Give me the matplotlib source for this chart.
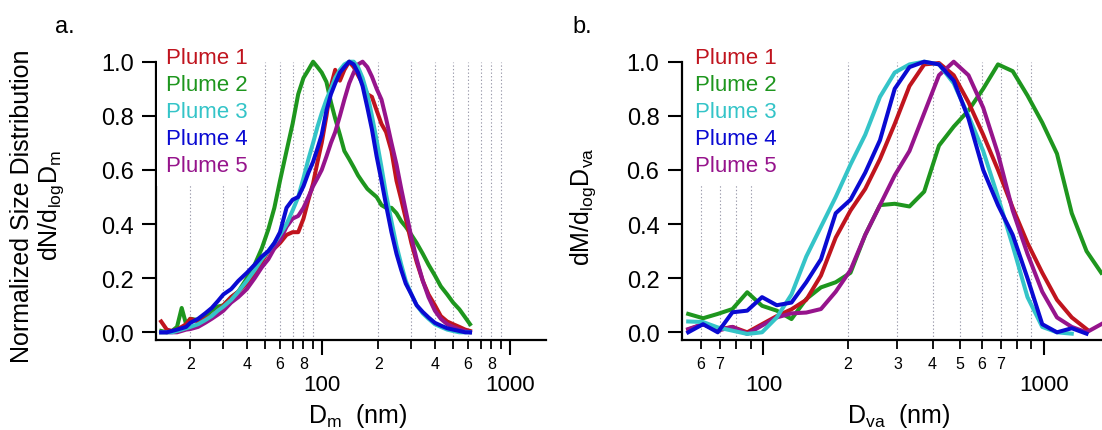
import numpy as np
import matplotlib
matplotlib.use("Agg")
import matplotlib.pyplot as plt
from matplotlib.ticker import FixedLocator, FuncFormatter

plt.rcParams['font.family'] = ['Liberation Sans', 'DejaVu Sans']
plt.rcParams['mathtext.default'] = 'regular'

# ---------------- data ----------------
labels = ["Plume 1", "Plume 2", "Plume 3", "Plume 4", "Plume 5"]
colors = ["#C0141E", "#1E961E", "#34C4C8", "#0A0AD2", "#96148C"]

# panel a: mobility diameter (nm)
dm = [14, 15, 16, 17, 18, 19, 20, 22, 24, 26, 28, 30, 33, 36, 40, 44, 48, 52, 56, 60,
      65, 70, 75, 80, 85, 90, 95, 100, 106, 112, 118, 125, 132, 140, 148, 156, 165, 175,
      185, 196, 208, 220, 235, 250, 265, 280, 300, 320, 345, 370, 400, 430, 465, 500,
      540, 580, 615]
a_p1 = [0.04, 0.01, 0.005, 0.01, 0.02, 0.03, 0.05, 0.04, 0.05, 0.06, 0.08, 0.10, 0.13, 0.15,
        0.18, 0.22, 0.26, 0.30, 0.31, 0.33, 0.36, 0.37, 0.37, 0.42, 0.49, 0.55, 0.63, 0.70,
        0.80, 0.91, 0.97, 0.93, 0.97, 1.00, 0.98, 0.95, 0.92, 0.88, 0.87, 0.82, 0.77, 0.74,
        0.67, 0.56, 0.49, 0.42, 0.33, 0.26, 0.19, 0.14, 0.10, 0.06, 0.04, 0.03, 0.02, 0.01,
        0.005]
a_p2 = [0.005, 0.0, 0.005, 0.02, 0.09, 0.03, 0.05, 0.045, 0.06, 0.08, 0.095, 0.10, 0.13,
        0.15, 0.20, 0.25, 0.31, 0.38, 0.46, 0.56, 0.67, 0.77, 0.88, 0.94, 0.97, 1.00, 0.98,
        0.96, 0.925, 0.85, 0.79, 0.73, 0.67, 0.64, 0.61, 0.58, 0.555, 0.53, 0.515, 0.50,
        0.47, 0.46, 0.46, 0.44, 0.41, 0.39, 0.36, 0.33, 0.29, 0.25, 0.21, 0.17, 0.14, 0.11,
        0.085, 0.055, 0.03]
a_p3 = [0.0, 0.0, 0.0, 0.005, 0.01, 0.015, 0.02, 0.03, 0.045, 0.06, 0.08, 0.095, 0.12, 0.15,
        0.19, 0.23, 0.27, 0.30, 0.33, 0.36, 0.40, 0.45, 0.50, 0.57, 0.64, 0.70, 0.76, 0.81,
        0.86, 0.90, 0.94, 0.97, 0.99, 1.00, 1.00, 0.98, 0.94, 0.88, 0.80, 0.71, 0.61, 0.51,
        0.41, 0.32, 0.25, 0.19, 0.14, 0.10, 0.07, 0.05, 0.03, 0.02, 0.01, 0.005, 0.0, 0.0,
        0.0]
a_p4 = [0.0, 0.0, 0.005, 0.01, 0.015, 0.02, 0.035, 0.05, 0.07, 0.09, 0.115, 0.14, 0.16,
        0.19, 0.22, 0.25, 0.28, 0.30, 0.33, 0.37, 0.46, 0.49, 0.50, 0.54, 0.59, 0.63, 0.68,
        0.73, 0.82, 0.88, 0.92, 0.96, 0.98, 1.00, 0.99, 0.96, 0.91, 0.83, 0.75, 0.65, 0.56,
        0.47, 0.37, 0.29, 0.23, 0.18, 0.14, 0.10, 0.075, 0.055, 0.035, 0.025, 0.015, 0.01,
        0.005, 0.0, 0.0]
a_p5 = [0.0, 0.0, 0.0, 0.0, 0.005, 0.01, 0.012, 0.02, 0.035, 0.05, 0.065, 0.08, 0.11, 0.13,
        0.16, 0.20, 0.24, 0.27, 0.31, 0.34, 0.39, 0.42, 0.43, 0.46, 0.50, 0.54, 0.57, 0.60,
        0.65, 0.70, 0.74, 0.80, 0.86, 0.92, 0.96, 0.99, 1.00, 0.98, 0.945, 0.90, 0.86, 0.79,
        0.70, 0.62, 0.53, 0.45, 0.35, 0.27, 0.19, 0.13, 0.08, 0.05, 0.03, 0.02, 0.01, 0.005,
        0.0]

# panel b: vacuum aerodynamic diameter (nm)
dva = [54.0, 61.0, 68.8, 77.6, 87.6, 98.9, 111.6, 125.9, 142.1, 160.3, 180.9, 204.2, 230.4,
       260.0, 293.4, 331.1, 373.6, 421.7, 475.8, 537.0, 605.9, 683.9, 771.6, 871.0, 982.9,
       1109, 1252, 1413, 1594]
nan = np.nan
b_p1 = [0.01, 0.03, 0.01, 0.02, 0.0, 0.03, 0.06, 0.085, 0.12, 0.21, 0.35, 0.45, 0.53, 0.64,
        0.77, 0.91, 0.99, 0.995, 0.95, 0.85, 0.73, 0.60, 0.46, 0.33, 0.22, 0.12, 0.055, 0.012,
        nan]
b_p2 = [0.068, 0.052, 0.068, 0.086, 0.148, 0.098, 0.08, 0.049, 0.123, 0.166, 0.185, 0.22,
        0.36, 0.47, 0.475, 0.465, 0.52, 0.69, 0.76, 0.82, 0.90, 0.99, 0.965, 0.875, 0.775,
        0.66, 0.44, 0.30, 0.22]
b_p3 = [0.04, 0.038, 0.018, 0.006, -0.006, 0.0, 0.055, 0.14, 0.28, 0.39, 0.50, 0.62, 0.73,
        0.87, 0.96, 0.99, 1.0, 0.99, 0.92, 0.80, 0.67, 0.50, 0.32, 0.13, 0.02, 0.0, -0.005,
        nan, nan]
b_p4 = [0.0, 0.03, 0.0, 0.074, 0.08, 0.13, 0.10, 0.11, 0.185, 0.27, 0.44, 0.49, 0.59, 0.71,
        0.90, 0.98, 1.0, 0.99, 0.93, 0.79, 0.60, 0.47, 0.36, 0.20, 0.03, 0.0, 0.015, -0.005,
        nan]
b_p5 = [0.012, 0.03, 0.006, 0.02, -0.006, 0.025, 0.055, 0.07, 0.073, 0.086, 0.15, 0.23, 0.36,
        0.47, 0.58, 0.67, 0.81, 0.95, 1.0, 0.95, 0.83, 0.66, 0.45, 0.29, 0.15, 0.055, 0.02,
        0.0, 0.03]

yticks = [0.0, 0.2, 0.4, 0.6, 0.8, 1.0]

# ---------------- figure ----------------
W, H = 1102, 431
fig = plt.figure(figsize=(W / 100, H / 100), dpi=100)


def px(x0, y0, x1, y1):
    return [x0 / W, 1 - y1 / H, (x1 - x0) / W, (y1 - y0) / H]


ax_a = fig.add_axes(px(156, 62.7, 546, 340.7))
ax_b = fig.add_axes(px(681.7, 62.7, 1102, 340.7))


def style(ax, xlim, minor, minor_lab):
    ax.set_xscale('log')
    ax.set_xlim(*xlim)
    ax.set_ylim(-0.0273, 1.0)
    for s in ['top', 'right']:
        ax.spines[s].set_visible(False)
    for s in ['left', 'bottom']:
        ax.spines[s].set_linewidth(1.6)
    ax.set_yticks(yticks)
    ax.yaxis.set_major_formatter(FuncFormatter(lambda v, p: f"{v:.1f}"))
    ax.xaxis.set_major_locator(FixedLocator([100, 1000]))
    ax.xaxis.set_major_formatter(FuncFormatter(lambda v, p: f"{int(round(v))}"))
    ax.xaxis.set_minor_locator(FixedLocator(minor))
    ax.xaxis.set_minor_formatter(FuncFormatter(
        lambda v, p: (str(int(round(v / 10 ** np.floor(np.log10(v) + 1e-9))))
                      if any(abs(v - m) < 1e-6 for m in minor_lab) else "")))
    ax.tick_params(axis='y', direction='out', length=10, width=1.5, labelsize=17, pad=6)
    ax.tick_params(axis='x', which='major', direction='out', length=11, width=1.5,
                   labelsize=16, pad=13.5)
    ax.tick_params(axis='x', which='minor', direction='out', length=6.5, width=1.3,
                   labelsize=11.5, pad=5)
    ax.grid(True, which='minor', axis='x', linestyle=(0, (1.2, 2.0)), color='#9a9aaa',
            linewidth=0.8)
    ax.grid(False, which='major')
    ax.set_axisbelow(True)


minor_all = [20, 30, 40, 50, 60, 70, 80, 90, 200, 300, 400, 500, 600, 700, 800, 900]
style(ax_a, (13.14, 1560), minor_all, [20, 40, 60, 80, 200, 400, 600, 800])
style(ax_b, (51.2, 1604), [60, 70, 80, 90, 200, 300, 400, 500, 600, 700, 800, 900],
      [60, 70, 200, 300, 400, 500, 600, 700])

a_series = [a_p1, a_p2, a_p3, a_p4, a_p5]
b_series = [b_p1, b_p2, b_p3, b_p4, b_p5]
order = [1, 0, 4, 2, 3]
lines_a, lines_b = {}, {}
for i in order:
    lines_a[i], = ax_a.plot(dm, a_series[i], color=colors[i], lw=2.9, clip_on=False,
                            solid_joinstyle='round', zorder=3)
    lines_b[i], = ax_b.plot(dva, b_series[i], color=colors[i], lw=2.9, clip_on=False,
                            solid_joinstyle='round', zorder=3)


def legend(ax, x_left_px):
    handles = [(lines_a if ax is ax_a else lines_b)[i] for i in range(5)]
    leg = ax.legend(handles, labels, loc='upper left',
                    bbox_to_anchor=(x_left_px / W, 1 - 39 / H),
                    bbox_transform=fig.transFigure, frameon=True, framealpha=1.0,
                    facecolor='white', edgecolor='none', fancybox=False,
                    handlelength=0, handletextpad=0, borderpad=0.42, labelspacing=0.27,
                    borderaxespad=0, fontsize=16, labelcolor=colors)
    for h in leg.legend_handles:
        h.set_visible(False)
    leg.set_zorder(2.5)
    return leg


legend(ax_a, 157)
legend(ax_b, 686)

# axis labels
ax_a.set_xlabel("D$_{m}$  (nm)", fontsize=18)
ax_a.xaxis.set_label_coords(358 / W, 8 / H, transform=fig.transFigure)
ax_a.xaxis.label.set_va('baseline')
ax_b.set_xlabel("D$_{va}$  (nm)", fontsize=18)
ax_b.xaxis.set_label_coords(899 / W, 8 / H, transform=fig.transFigure)
ax_b.xaxis.label.set_va('baseline')

ax_a.set_ylabel("Normalized Size Distribution\ndN/d$_{log}$D$_{m}$", fontsize=18,
                linespacing=1.1, ha='center', va='center')
ax_a.yaxis.set_label_coords(38 / W, 1 - 206 / H, transform=fig.transFigure)
ax_b.set_ylabel("dM/d$_{log}$D$_{va}$", fontsize=18, va='center')
ax_b.yaxis.set_label_coords(583 / W, 1 - 207 / H, transform=fig.transFigure)

fig.text(55 / W, 1 - 33 / H, "a.", fontsize=17, va='baseline', ha='left')
fig.text(572 / W, 1 - 33 / H, "b.", fontsize=17, va='baseline', ha='left')

fig.savefig("out.png", dpi=100)
